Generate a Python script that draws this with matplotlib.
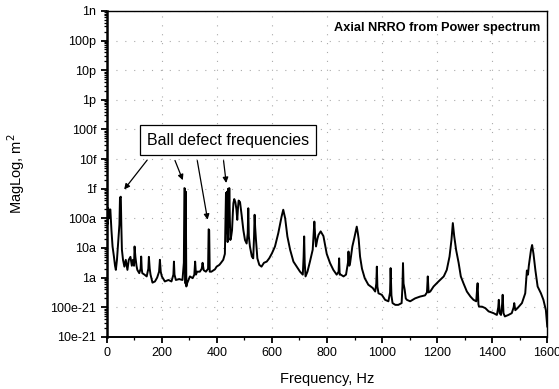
import numpy as np
import matplotlib
matplotlib.use("Agg")
import matplotlib.pyplot as plt
from matplotlib.ticker import FixedLocator, LogLocator, MultipleLocator, NullFormatter

plt.rcParams['font.family'] = ['Liberation Sans', 'DejaVu Sans']

# Spectrum: frequency (Hz) and log10 of magnitude (m^2)
freq = [0, 3, 5, 8, 10, 13, 17, 21, 26, 30, 33, 37, 42, 46, 48, 51, 53, 55, 59, 64,
        69, 75, 80, 86, 91, 95, 99, 101, 104, 108, 111, 118, 123, 125, 127, 129, 137, 145, 151, 153,
        156, 159, 166, 175, 183, 190, 193, 196, 200, 211, 224, 235, 242, 244, 246, 251, 263, 275, 280, 282,
        284, 286, 287, 289, 292, 302, 312, 318, 321, 324, 328, 338, 345, 348, 352, 360, 368, 370, 372, 374,
        380, 393, 399, 409, 415, 423, 429, 431, 433, 435, 437, 439, 441, 443, 445, 447, 449, 452, 455, 458,
        460, 463, 467, 471, 474, 477, 479, 484, 490, 496, 502, 508, 512, 514, 516, 520, 527, 532, 535, 537,
        539, 542, 547, 554, 562, 571, 581, 590, 600, 611, 623, 635, 641, 648, 656, 666, 678, 690, 702, 712,
        715, 717, 719, 722, 729, 738, 748, 751, 754, 757, 760, 765, 769, 777, 787, 799, 811, 823, 835, 842,
        844, 846, 850, 860, 869, 876, 878, 881, 884, 892, 899, 904, 908, 912, 915, 920, 927, 937, 950, 966,
        975, 979, 981, 983, 987, 999, 1011, 1023, 1029, 1031, 1034, 1038, 1048, 1059, 1071, 1074, 1076, 1078, 1082, 1086,
        1090, 1102, 1120, 1138, 1156, 1163, 1166, 1169, 1175, 1187, 1205, 1224, 1235, 1245, 1252, 1257, 1262, 1269, 1278, 1286,
        1296, 1308, 1321, 1332, 1342, 1345, 1347, 1350, 1352, 1363, 1375, 1387, 1405, 1417, 1422, 1424, 1427, 1432, 1436, 1438,
        1441, 1446, 1459, 1471, 1478, 1480, 1484, 1492, 1508, 1520, 1526, 1530, 1533, 1541, 1545, 1550, 1557, 1565, 1577, 1586,
        1595, 1600]
mag_log10 = [-16.05, -16.2, -15.65, -16.0, -15.75, -15.7, -16.4, -16.95, -17.29, -17.6, -17.74, -17.4, -16.73, -16.2, -15.3, -15.27, -16.3, -17.06, -17.4, -17.63,
             -17.4, -17.74, -17.4, -17.3, -17.6, -17.4, -17.6, -16.95, -17.3, -17.6, -17.74, -17.85, -17.7, -17.29, -17.7, -17.85, -17.9, -17.96, -17.7, -17.3,
             -17.7, -17.9, -18.17, -18.13, -18.0, -17.8, -17.4, -17.8, -17.96, -18.13, -18.08, -18.13, -17.9, -17.46, -17.9, -18.08, -18.05, -18.08, -17.5, -14.98,
             -15.0, -18.2, -15.1, -18.3, -18.19, -17.96, -18.02, -17.9, -17.46, -17.9, -17.8, -17.8, -17.7, -17.5, -17.75, -17.8, -17.7, -16.37, -16.4, -17.8,
             -17.8, -17.72, -17.63, -17.57, -17.5, -17.4, -17.2, -16.2, -15.14, -16.5, -15.1, -16.8, -15.0, -16.3, -14.98, -16.0, -16.73, -16.6, -16.4, -15.8,
             -15.49, -15.35, -15.45, -15.7, -16.05, -15.6, -15.4, -15.45, -15.9, -16.39, -16.73, -16.85, -16.5, -15.66, -16.6, -16.95, -17.29, -17.35, -16.6, -15.88,
             -16.3, -16.73, -17.35, -17.57, -17.63, -17.5, -17.46, -17.35, -17.18, -16.95, -16.5, -15.94, -15.71, -16.0, -16.61, -17.06, -17.46, -17.63, -17.8, -17.9,
             -17.3, -16.61, -17.5, -17.96, -17.8, -17.46, -17.06, -16.6, -16.11, -16.6, -16.95, -16.7, -16.56, -16.44, -16.6, -17.2, -17.51, -17.74, -17.9, -17.8,
             -17.35, -17.9, -17.9, -17.96, -17.9, -17.5, -17.12, -17.6, -17.5, -16.95, -16.67, -16.45, -16.28, -16.5, -16.7, -17.29, -17.7, -18.02, -18.24, -18.35,
             -18.47, -18.2, -17.63, -18.3, -18.53, -18.58, -18.75, -18.8, -18.5, -17.68, -18.6, -18.86, -18.92, -18.92, -18.86, -18.3, -17.51, -18.2, -18.4, -18.7,
             -18.75, -18.8, -18.7, -18.64, -18.6, -18.5, -17.96, -18.5, -18.47, -18.3, -18.13, -17.96, -17.74, -17.29, -16.73, -16.16, -16.6, -17.07, -17.5, -17.96,
             -18.2, -18.47, -18.64, -18.75, -18.8, -18.4, -18.19, -18.9, -18.98, -18.98, -19.03, -19.14, -19.2, -19.26, -19.0, -18.75, -19.2, -19.26, -18.9, -18.58,
             -19.2, -19.31, -19.26, -19.2, -19.0, -18.86, -19.1, -19.03, -18.86, -18.53, -17.76, -17.9, -17.6, -17.06, -16.9, -17.2, -17.76, -18.3, -18.53, -18.75,
             -19.1, -19.65]

y_ticks = [1e-20, 1e-19, 1e-18, 1e-17, 1e-16, 1e-15, 1e-14, 1e-13, 1e-12, 1e-11, 1e-10, 1e-9]
y_tick_labels = ['10e-21', '100e-21', '1a', '10a', '100a', '1f', '10f', '100f', '1p', '10p', '100p', '1n']
x_ticks = [0, 200, 400, 600, 800, 1000, 1200, 1400, 1600]

# Ball defect peaks the arrows point to: (freq, magnitude) tip, (freq, magnitude) tail
arrow_tips = [(57, 10**-15.10), (280, 10**-14.80), (368, 10**-16.14), (435, 10**-14.90)]
arrow_tails = [(153, 10**-13.96), (244, 10**-13.96), (327, 10**-13.96), (423, 10**-13.96)]

fig = plt.figure(figsize=(5.59, 3.89), dpi=100)
ax = fig.add_axes([0.191, 0.134, 0.788, 0.838])

ax.plot(freq, 10**np.array(mag_log10), color='black', lw=1.4)

ax.set_yscale('log')
ax.set_xlim(0, 1600)
ax.set_ylim(1e-20, 1e-9)
ax.yaxis.set_major_locator(FixedLocator(y_ticks))
ax.set_yticklabels(y_tick_labels)
ax.yaxis.set_minor_locator(LogLocator(base=10, subs=np.arange(2, 10), numticks=50))
ax.yaxis.set_minor_formatter(NullFormatter())
ax.set_xticks(x_ticks)
ax.xaxis.set_minor_locator(MultipleLocator(100))

ax.grid(which='major', color='#aaaaaa', linestyle=(0, (1, 7)), lw=0.8)

for s in ax.spines.values():
    s.set_linewidth(1.0)
ax.spines['left'].set_linewidth(1.8)
ax.spines['bottom'].set_linewidth(1.4)
ax.tick_params(which='major', direction='out', length=4, width=1.3, labelsize=9)
ax.tick_params(which='minor', direction='out', length=2.5, width=0.9)

ax.set_xlabel('Frequency, Hz', fontsize=10.5, labelpad=9)
ax.set_ylabel('MagLog, m$^2$', fontsize=10.5, labelpad=17)

ax.text(0.985, 0.965, 'Axial NRRO from Power spectrum', transform=ax.transAxes,
        ha='right', va='top', fontsize=9.2, fontweight='bold')

ax.text(440, 10**-13.36, 'Ball defect frequencies', ha='center', va='center', fontsize=11.5,
        bbox=dict(boxstyle='square,pad=0.45', fc='white', ec='black', lw=0.9))
for tip, tail in zip(arrow_tips, arrow_tails):
    ax.annotate('', xy=tip, xytext=tail,
                arrowprops=dict(arrowstyle='-|>', color='black', lw=0.9, mutation_scale=8))

fig.savefig('out.png', dpi=100)
